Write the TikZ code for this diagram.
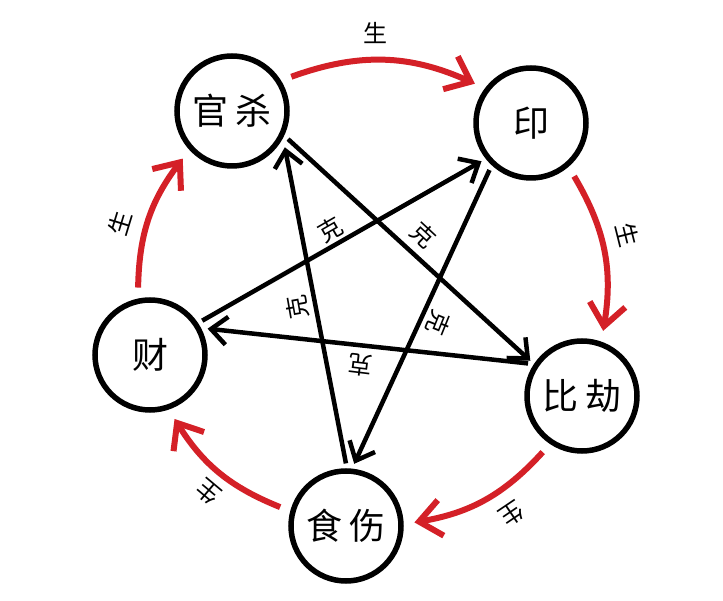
\documentclass[tikz,border=0pt]{standalone}
\usepackage{fontspec}
\newfontfamily\cjk{Noto Sans CJK SC}
\usetikzlibrary{arrows.meta}
\definecolor{shred}{RGB}{212,32,39}
\begin{document}
\begin{tikzpicture}[x=1pt,y=1pt,
  elem/.style={circle,draw=black,line width=5.5pt,minimum size=110pt,inner sep=0pt,outer sep=13.5pt,
    font=\cjk\fontsize{36}{40}\selectfont},
  sheng/.style={draw=shred,line width=6pt,-{Straight Barb[length=22pt,width=36pt]}},
  ke/.style={draw=black,line width=4.5pt,-{Straight Barb[length=16pt,width=28pt]},
    shorten <=-6pt,shorten >=-6pt},
  shlabel/.style={font=\cjk\fontsize{24}{26}\selectfont,inner sep=0pt},
  kelabel/.style={font=\cjk\fontsize{24}{26}\selectfont,inner sep=0pt}]
\useasboundingbox[fill=white] (0,0) rectangle (723,600);

% elements
\node[elem] (gs)  at (232,489) {官\hspace{8pt}杀};
\node[elem] (yin) at (531,477) {印};
\node[elem] (bj)  at (582,204) {比\hspace{8pt}劫};
\node[elem] (ss)  at (346,74)  {食\hspace{7pt}伤};
\node[elem] (cai) at (150,245) {财};

% generating cycle (red)
\draw[sheng] (gs.30)    to[bend left=22] (yin.145);
\draw[sheng] (yin.-51)  to[bend left=20] (bj.72);
\draw[sheng] (bj.-125)  to[bend left=19] (ss.3);
\draw[sheng] (ss.164)   to[bend left=18] (cai.-69);
\draw[sheng] (cai.100)  to[bend left=18] (gs.-136);

\node[shlabel,rotate=0]    (s1) at (375,567) {生};
\node[shlabel,rotate=-76]  (s2) at (628,365) {生};
\node[shlabel,rotate=-146] (s3) at (512,86)  {生};
\node[shlabel,rotate=140]  (s4) at (208,108) {生};
\node[shlabel,rotate=73]   (s5) at (120,377) {生};

% controlling star (black)
\draw[ke] (gs.-28)   -- (bj.145);
\draw[ke] (yin.-130) -- (ss.81);
\draw[ke] (bj.151)   -- (cai.22);
\draw[ke] (ss.91)    -- (gs.-38);
\draw[ke] (cai.33)   -- (yin.-143);

\node[kelabel,rotate=30]   (k1) at (330,370) {克};
\node[kelabel,rotate=-43]  (k2) at (423,365) {克};
\node[kelabel,rotate=100]  (k3) at (297,293) {克};
\node[kelabel,rotate=-112] (k4) at (438,277) {克};
\node[kelabel,rotate=173]  (k5) at (360,235) {克};
\end{tikzpicture}
\end{document}
